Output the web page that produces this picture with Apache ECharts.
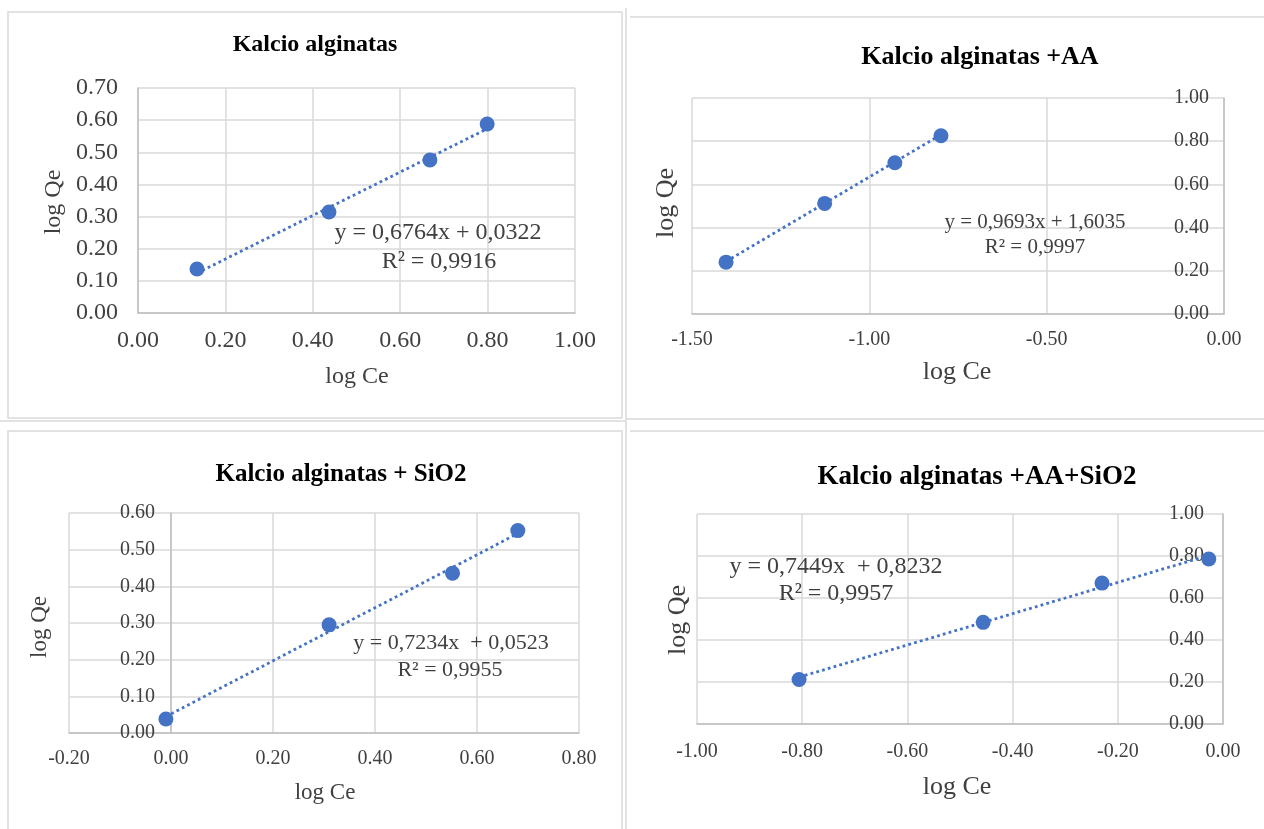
<!DOCTYPE html>
<html><head><meta charset="utf-8">
<script src="https://cdn.jsdelivr.net/npm/echarts@6/dist/echarts.min.js"></script>
<style>html,body{margin:0;padding:0;background:#fff}#c{width:1264px;height:829px}</style>
</head><body><div id="c"></div>
<script>
// ---- data ----
const titles = ['Kalcio alginatas', 'Kalcio alginatas +AA', 'Kalcio alginatas + SiO2', 'Kalcio alginatas +AA+SiO2'];
const xName = 'log Ce';
const yName = 'log Qe';

const p1Ce = [0.135, 0.437, 0.668, 0.799];
const p1Qe = [0.137, 0.314, 0.476, 0.588];
const p1TrendCe = [0.135, 0.799];
const p1TrendQe = [0.124, 0.573];
const p1Eq = ['y = 0,6764x + 0,0322', 'R² = 0,9916'];
const p1XAxis = [0, 1, 0.2];
const p1YAxis = [0, 0.7, 0.1];

const p2Ce = [-1.404, -1.126, -0.928, -0.798];
const p2Qe = [0.240, 0.512, 0.700, 0.825];
const p2TrendCe = [-1.404, -0.798];
const p2TrendQe = [0.243, 0.830];
const p2Eq = ['y = 0,9693x + 1,6035', 'R² = 0,9997'];
const p2XAxis = [-1.5, 0, 0.5];
const p2YAxis = [0, 1, 0.2];

const p3Ce = [-0.010, 0.310, 0.552, 0.680];
const p3Qe = [0.038, 0.295, 0.436, 0.552];
const p3TrendCe = [-0.010, 0.680];
const p3TrendQe = [0.045, 0.544];
const p3Eq = ['y = 0,7234x  + 0,0523', 'R² = 0,9955'];
const p3XAxis = [-0.2, 0.8, 0.2];
const p3YAxis = [0, 0.6, 0.1];

const p4Ce = [-0.806, -0.456, -0.230, -0.027];
const p4Qe = [0.212, 0.484, 0.671, 0.786];
const p4TrendCe = [-0.806, -0.027];
const p4TrendQe = [0.223, 0.803];
const p4Eq = ['y = 0,7449x  + 0,8232', 'R² = 0,9957'];
const p4XAxis = [-1, 0, 0.2];
const p4YAxis = [0, 1, 0.2];

// ---- layout / style ----
const FONT = '"Liberation Serif", "Times New Roman", serif';
const BLUE = '#4472C4';
const GRIDC = '#D9D9D9';
const AXC = '#BFBFBF';
const TXT = '#404040';

const panels = [
  {ce: p1Ce, qe: p1Qe, tce: p1TrendCe, tqe: p1TrendQe, eq: p1Eq, xa: p1XAxis, ya: p1YAxis,
   grid: {left: 138, top: 88, width: 437, height: 225}, yPos: 'left', yInside: false, yOffset: 0, yMargin: 20, xMargin: 16, lab: 24,
   title: [315, 45, 24], xn: [357, 377, 24], yn: [54, 202, 24], eqPos: [[438, 233], [439, 262]], eqFont: 24},
  {ce: p2Ce, qe: p2Qe, tce: p2TrendCe, tqe: p2TrendQe, eq: p2Eq, xa: p2XAxis, ya: p2YAxis,
   grid: {left: 692, top: 98, width: 532, height: 216}, yPos: 'right', yInside: true, yOffset: 0, yMargin: 15, xMargin: 16, lab: 20,
   title: [980, 57, 26], xn: [957, 372, 26], yn: [666, 203, 26], eqPos: [[1035, 222], [1035, 247]], eqFont: 21},
  {ce: p3Ce, qe: p3Qe, tce: p3TrendCe, tqe: p3TrendQe, eq: p3Eq, xa: p3XAxis, ya: p3YAxis,
   grid: {left: 69, top: 513, width: 510, height: 220}, yPos: 'left', yInside: false, yOffset: -102, yMargin: 16, xMargin: 16, lab: 20,
   title: [341, 475, 25], xn: [325, 793, 23], yn: [40, 627, 23], eqPos: [[451, 643], [450, 670]], eqFont: 22},
  {ce: p4Ce, qe: p4Qe, tce: p4TrendCe, tqe: p4TrendQe, eq: p4Eq, xa: p4XAxis, ya: p4YAxis,
   grid: {left: 697, top: 514, width: 526, height: 210}, yPos: 'right', yInside: true, yOffset: 0, yMargin: 19, xMargin: 18, lab: 20,
   title: [977, 477, 27], xn: [957, 787, 26], yn: [678, 620, 26], eqPos: [[836, 567], [836, 594]], eqFont: 24}
];

const fmt = v => (Math.abs(v) < 1e-9 ? 0 : v).toFixed(2);

const grids = [], xAxes = [], yAxes = [], series = [], graphics = [];

// panel frames
const frameStyle = {fill: 'none', stroke: GRIDC, lineWidth: 1.5};
graphics.push({type: 'rect', shape: {x: 8, y: 12, width: 614, height: 406}, style: frameStyle, silent: true});
graphics.push({type: 'line', shape: {x1: 626, y1: 8, x2: 626, y2: 829}, style: {stroke: GRIDC, lineWidth: 1.5}, silent: true});
graphics.push({type: 'line', shape: {x1: 630, y1: 17, x2: 1264, y2: 17}, style: {stroke: GRIDC, lineWidth: 1.5}, silent: true});
graphics.push({type: 'line', shape: {x1: 626, y1: 419, x2: 1264, y2: 419}, style: {stroke: GRIDC, lineWidth: 1.5}, silent: true});
graphics.push({type: 'line', shape: {x1: 0, y1: 421, x2: 626, y2: 421}, style: {stroke: GRIDC, lineWidth: 1.5}, silent: true});
graphics.push({type: 'rect', shape: {x: 8, y: 431, width: 614, height: 410}, style: frameStyle, silent: true});
graphics.push({type: 'line', shape: {x1: 630, y1: 431, x2: 1264, y2: 431}, style: {stroke: GRIDC, lineWidth: 1.5}, silent: true});

panels.forEach((p, i) => {
  grids.push(Object.assign({containLabel: false}, p.grid));
  xAxes.push({
    type: 'value', gridIndex: i, min: p.xa[0], max: p.xa[1], interval: p.xa[2],
    axisLine: {show: true, onZero: true, lineStyle: {color: AXC, width: 1.5}},
    axisTick: {show: false},
    axisLabel: {formatter: fmt, color: TXT, fontFamily: FONT, fontSize: p.lab, margin: p.xMargin, showMinLabel: true, showMaxLabel: true},
    splitLine: {show: true, showMinLine: true, showMaxLine: true, lineStyle: {color: GRIDC, width: 1.5}}
  });
  yAxes.push({
    type: 'value', gridIndex: i, min: p.ya[0], max: p.ya[1], interval: p.ya[2], position: p.yPos, offset: p.yOffset,
    axisLine: {show: true, onZero: false, lineStyle: {color: AXC, width: 1.5}},
    axisTick: {show: false},
    axisLabel: {formatter: fmt, color: TXT, fontFamily: FONT, fontSize: p.lab, margin: p.yMargin, inside: p.yInside, showMinLabel: true, showMaxLabel: true},
    splitLine: {show: true, showMinLine: true, showMaxLine: true, lineStyle: {color: GRIDC, width: 1.5}}
  });
  series.push({
    type: 'line', xAxisIndex: i, yAxisIndex: i, data: p.tce.map((c, k) => [c, p.tqe[k]]),
    showSymbol: false, symbol: 'none', silent: true, z: 2,
    lineStyle: {color: BLUE, width: 2.8, type: [2.8, 3.2], cap: 'butt', opacity: 1}
  });
  series.push({
    type: 'scatter', xAxisIndex: i, yAxisIndex: i, data: p.ce.map((c, k) => [c, p.qe[k]]),
    symbol: 'circle', symbolSize: 15, itemStyle: {color: BLUE, opacity: 1}, z: 3
  });
  graphics.push({type: 'text', x: p.title[0], y: p.title[1], silent: true,
    style: {text: titles[i], font: 'bold ' + p.title[2] + 'px ' + FONT, fill: '#000', align: 'center', verticalAlign: 'middle'}});
  graphics.push({type: 'text', x: p.xn[0], y: p.xn[1], silent: true,
    style: {text: xName, font: p.xn[2] + 'px ' + FONT, fill: TXT, align: 'center', verticalAlign: 'middle'}});
  graphics.push({type: 'text', x: p.yn[0], y: p.yn[1], rotation: Math.PI / 2, silent: true,
    style: {text: yName, font: p.yn[2] + 'px ' + FONT, fill: TXT, align: 'center', verticalAlign: 'middle'}});
  p.eq.forEach((t, k) => {
    graphics.push({type: 'text', x: p.eqPos[k][0], y: p.eqPos[k][1], silent: true, z: 10,
      style: {text: t, font: p.eqFont + 'px ' + FONT, fill: TXT, align: 'center', verticalAlign: 'middle'}});
  });
});

const chart = echarts.init(document.getElementById('c'), null, {renderer: 'canvas'});
chart.setOption({
  animation: false,
  backgroundColor: '#fff',
  grid: grids, xAxis: xAxes, yAxis: yAxes, series: series,
  graphic: {elements: graphics}
});
</script></body></html>
